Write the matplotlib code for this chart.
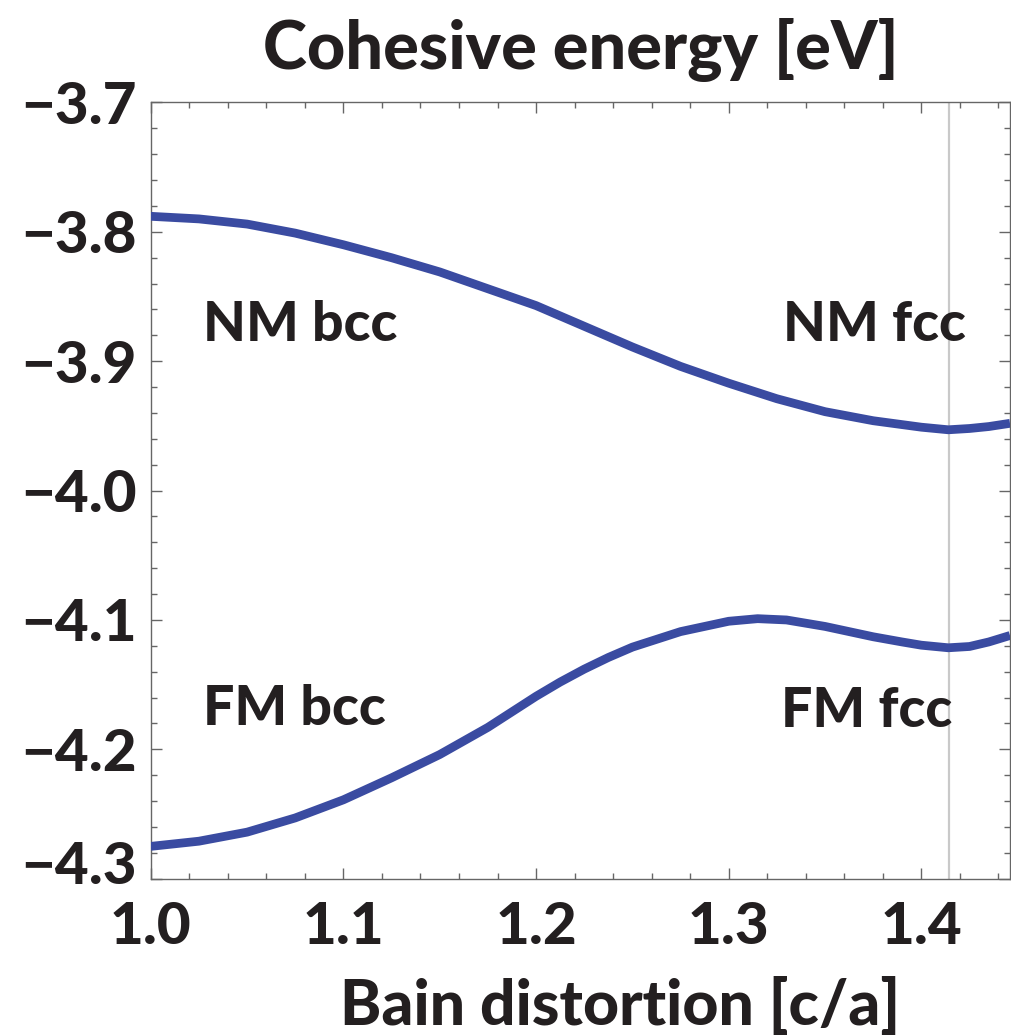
import numpy as np
import matplotlib
matplotlib.use("Agg")
import matplotlib.pyplot as plt
from matplotlib.ticker import MultipleLocator
from matplotlib.transforms import ScaledTranslation

plt.rcParams['font.family'] = ['Lato', 'DejaVu Sans']
plt.rcParams['font.weight'] = 'black'

# c/a values
ca_nm = [1.0, 1.025, 1.05, 1.075, 1.1, 1.125, 1.15, 1.175, 1.2, 1.225, 1.25,
         1.275, 1.3, 1.325, 1.35, 1.375, 1.4, 1.414, 1.425, 1.435, 1.446]
# non-magnetic branch (eV)
nm_energy = [-3.788, -3.790, -3.794, -3.801, -3.810, -3.820, -3.831, -3.844,
             -3.857, -3.873, -3.889, -3.904, -3.917, -3.929, -3.939, -3.946,
             -3.951, -3.953, -3.952, -3.9505, -3.948]

ca_fm = [1.0, 1.025, 1.05, 1.075, 1.1, 1.125, 1.15, 1.175, 1.2, 1.2125, 1.225,
         1.2375, 1.25, 1.2625, 1.275, 1.2875, 1.3, 1.315, 1.33, 1.35, 1.375,
         1.39, 1.4, 1.414, 1.425, 1.435, 1.446]
# ferromagnetic branch (eV)
fm_energy = [-4.275, -4.271, -4.264, -4.253, -4.239, -4.222, -4.204, -4.183,
             -4.159, -4.148, -4.138, -4.129, -4.121, -4.115, -4.109, -4.105,
             -4.101, -4.099, -4.100, -4.105, -4.113, -4.117, -4.1195, -4.1215,
             -4.1205, -4.117, -4.112]

labels = ["NM bcc", "NM fcc", "FM bcc", "FM fcc"]
label_x = [1.027, 1.328, 1.027, 1.327]
label_y = [-3.884, -3.884, -4.181, -4.183]

x_ticks = [1.0, 1.1, 1.2, 1.3, 1.4]
y_ticks = [-4.3, -4.2, -4.1, -4.0, -3.9, -3.8, -3.7]
fcc_ca = np.sqrt(2)

line_color = '#3a4ba1'
frame_color = '#666666'
text_color = '#231f20'

fig = plt.figure(figsize=(10.12, 10.35), dpi=100)
ax = fig.add_axes([0.149, 0.151, 0.849, 0.750])

ax.axvline(fcc_ca, color='#c9c9c9', lw=1.6, zorder=1)
for xs, ys in [(ca_nm, nm_energy), (ca_fm, fm_energy)]:
    ax.plot(xs, ys, color=line_color, lw=6.3, solid_capstyle='butt',
            solid_joinstyle='round', zorder=3)

for t, xx, yy in zip(labels, label_x, label_y):
    ax.text(xx, yy, t, fontsize=40, fontweight='black', color=text_color,
            ha='left', va='baseline', zorder=4)

ax.set_xlim(1.0, 1.446)
ax.set_ylim(-4.3, -3.7)
ax.set_xticks(x_ticks)
ax.set_yticks(y_ticks)
ax.xaxis.set_minor_locator(MultipleLocator(0.02))
ax.yaxis.set_minor_locator(MultipleLocator(0.02))
ax.set_xticklabels([f"{v:.1f}" for v in x_ticks])
ax.set_yticklabels([f"\u2212{abs(v):.1f}" for v in y_ticks])

ax.tick_params(which='both', direction='in', top=True, right=True,
               color=frame_color, width=1.0)
ax.tick_params(which='major', length=8, labelsize=42, labelcolor=text_color)
ax.tick_params(which='minor', length=4.3)
ax.tick_params(axis='x', which='major', pad=16)
ax.tick_params(axis='y', which='major', pad=10)
for lab in ax.get_xticklabels() + ax.get_yticklabels():
    lab.set_fontweight('black')

# lift the bottom y label clear of the x labels, as in the original
ylabs = ax.get_yticklabels()
ylabs[0].set_transform(ylabs[0].get_transform() +
                       ScaledTranslation(0, 16 / 100, fig.dpi_scale_trans))

for s in ax.spines.values():
    s.set_color(frame_color)
    s.set_linewidth(1.0)

ax.set_title("Cohesive energy [eV]", fontsize=48, fontweight='black',
             color=text_color, pad=24)
ax.set_xlabel("Bain distortion [c/a]", fontsize=45, fontweight='black',
              color=text_color)
ax.xaxis.set_label_coords(0.546, -0.126)
ax.xaxis.label.set_va('top')

fig.savefig("out.png", dpi=100)
